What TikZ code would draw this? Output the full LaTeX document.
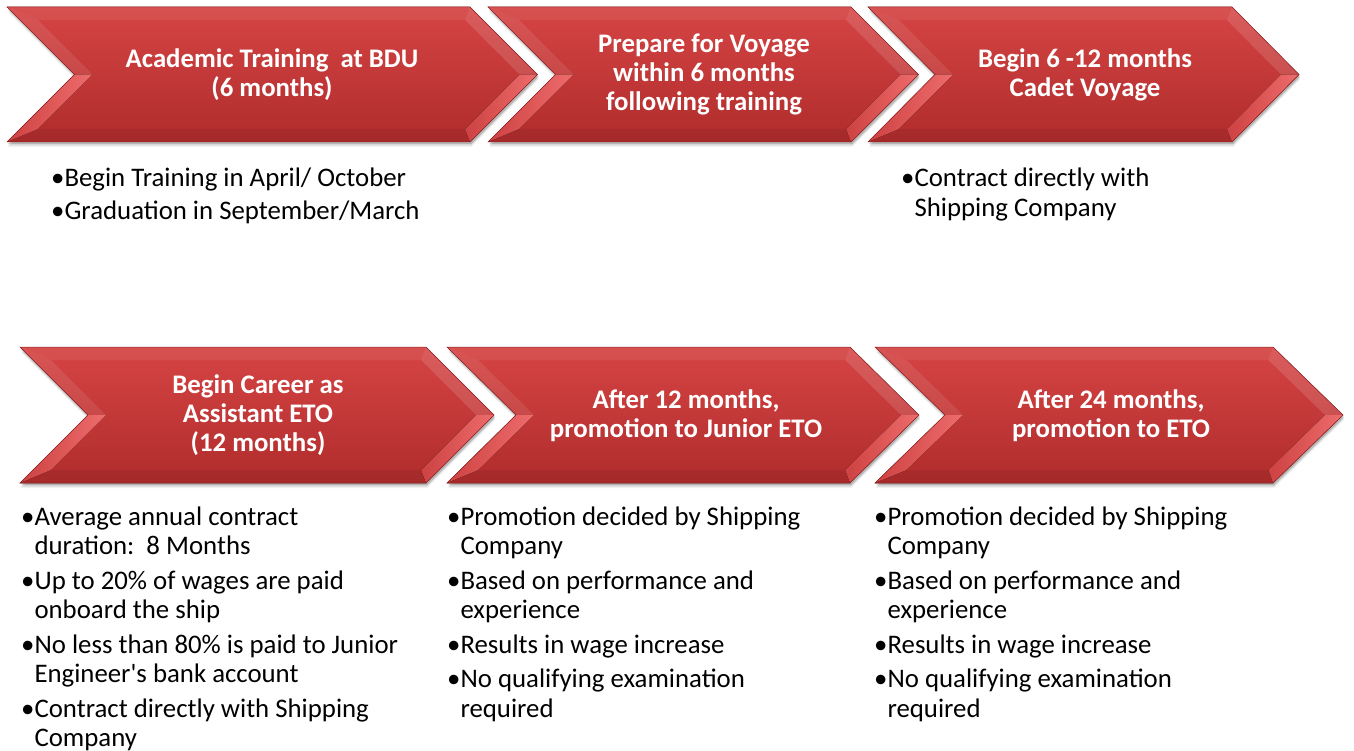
\documentclass[tikz,border=0pt]{standalone}
\usepackage{fontspec}
\setmainfont{Carlito}[Ligatures=TeXOff]
\usetikzlibrary{calc}
\definecolor{ctop}{RGB}{214,68,68}
\definecolor{cbot}{RGB}{176,44,44}
\definecolor{cedge}{RGB}{150,36,36}
\definecolor{bvdark}{RGB}{205,66,66}
\definecolor{bvlight}{RGB}{238,108,108}
\definecolor{txt}{RGB}{0,0,0}
\newlength\bwid
\newcommand\nl{\hfill\break}
\newcommand\bitem[1]{\par\hangindent=\bwid\hangafter=1\noindent\makebox[\bwid][l]{•}#1\par}
\newcommand\chev[5]{%
  \pgfmathsetmacro\cL{#1}\pgfmathsetmacro\cT{#2}\pgfmathsetmacro\cR{#3}%
  \pgfmathsetmacro\cB{#4}\pgfmathsetmacro\cD{#5}%
  \pgfmathsetmacro\cM{(\cT+\cB)/2}%
  \pgfmathsetmacro\bb{13}\pgfmathsetmacro\hh{18}%
  \pgfmathsetmacro\kk{\cD/(\cM-\cT)}%
  \pgfmathsetmacro\itl{\cL+\hh+\bb*\kk}%
  \pgfmathsetmacro\itr{\cR-\hh+\bb*\kk}%
  % shadow
  \foreach \s/\o in {5/0.06,3.5/0.1,2/0.16}{%
    \fill[black,opacity=\o] ({\cL+1},{\cT+\s}) -- ({\cR+1},{\cT+\s}) -- ({\cR+\cD+1},{\cM+\s}) -- ({\cR+1},{\cB+\s}) -- ({\cL+1},{\cB+\s}) -- ({\cL+\cD+1},{\cM+\s}) -- cycle;}
  % body
  \fill[top color=ctop,bottom color=cbot] (\cL,\cT) -- (\cR,\cT) -- ({\cR+\cD},\cM) -- (\cR,\cB) -- (\cL,\cB) -- ({\cL+\cD},\cM) -- cycle;
  % bevel bands
  \fill[white,opacity=0.07] (\cL,\cT) -- (\cR,\cT) -- (\itr,{\cT+\bb}) -- (\itl,{\cT+\bb}) -- cycle;
  \fill[black,opacity=0.06] (\cL,\cB) -- (\cR,\cB) -- (\itr,{\cB-\bb}) -- (\itl,{\cB-\bb}) -- cycle;
  \fill[white,opacity=0.13] (\cR,\cT) -- ({\cR+\cD},\cM) -- ({\cR+\cD-\hh},\cM) -- (\itr,{\cT+\bb}) -- cycle;
  \fill[left color=bvdark,right color=bvlight] ({\cR+\cD},\cM) -- (\cR,\cB) -- (\itr,{\cB-\bb}) -- ({\cR+\cD-\hh},\cM) -- cycle;
  \fill[white,opacity=0.09] (\cL,\cT) -- ({\cL+\cD},\cM) -- ({\cL+\cD+\hh},\cM) -- (\itl,{\cT+\bb}) -- cycle;
  \fill[left color=bvdark,right color=bvlight] (\cL,\cB) -- ({\cL+\cD},\cM) -- ({\cL+\cD+\hh},\cM) -- (\itl,{\cB-\bb}) -- cycle;
  \draw[cedge,line width=0.5pt] (\cL,\cT) -- (\cR,\cT) -- ({\cR+\cD},\cM) -- (\cR,\cB) -- (\cL,\cB) -- ({\cL+\cD},\cM) -- cycle;
}
\tikzset{
  title/.style={text=white,font=\bfseries\fontsize{26.8}{29}\selectfont,align=center,inner sep=0pt},
  blist/.style={anchor=base west,inner sep=0pt,text=txt}
}
\newcommand\blistbox[1]{\parbox[t]{440pt}{\raggedright\fontsize{26.8}{29.5}\selectfont\settowidth\bwid{•}\parskip=5pt #1}}
\begin{document}
\begin{tikzpicture}[x=1pt,y=-1pt]
\useasboundingbox (0,0) rectangle (1354,751);
\fill[white] (0,0) rectangle (1354,751);
\chev{7}{7}{470}{142}{67.5}
\chev{488}{7}{851}{142}{67.5}
\chev{868}{7}{1232}{142}{67}
\chev{20}{347}{426}{483}{68}
\chev{447}{347}{850}{483}{69}
\chev{875}{347}{1273}{483}{70}

\node[title] (t1) at (272,74.5) {Academic Training\ \ at BDU\\(6 months)};
\node[title] (t2) at (704,74.5) {Prepare for Voyage\\within 6 months\\following training};
\node[title] (t3) at (1085,74.5) {Begin 6 -12 months\\Cadet Voyage};
\node[title] (t4) at (258,415) {Begin Career as\\Assistant ETO\\(12 months)};
\node[title] (t5) at (686,416) {After 12 months,\\promotion to Junior ETO};
\node[title] (t6) at (1111,416) {After 24 months,\\promotion to ETO};

\node[blist] (b1) at (51,187) {\blistbox{\parskip=3.5pt
  \bitem{Begin Training in April/ October}
  \bitem{Graduation in September/March}}};
\node[blist] (b3) at (901,187) {\blistbox{
  \bitem{Contract directly with\nl Shipping Company}}};
\node[blist] (b4) at (21,525) {\blistbox{
  \bitem{Average annual contract\nl duration:\ \ 8 Months}
  \bitem{Up to 20\% of wages are paid\nl onboard the ship}
  \bitem{No less than 80\% is paid to Junior\nl Engineer's bank account}
  \bitem{Contract directly with Shipping\nl Company}}};
\node[blist] (b5) at (447,525) {\blistbox{
  \bitem{Promotion decided by Shipping\nl Company}
  \bitem{Based on performance and\nl experience}
  \bitem{Results in wage increase}
  \bitem{No qualifying examination\nl required}}};
\node[blist] (b6) at (874,525) {\blistbox{
  \bitem{Promotion decided by Shipping\nl Company}
  \bitem{Based on performance and\nl experience}
  \bitem{Results in wage increase}
  \bitem{No qualifying examination\nl required}}};
\end{tikzpicture}
\end{document}
